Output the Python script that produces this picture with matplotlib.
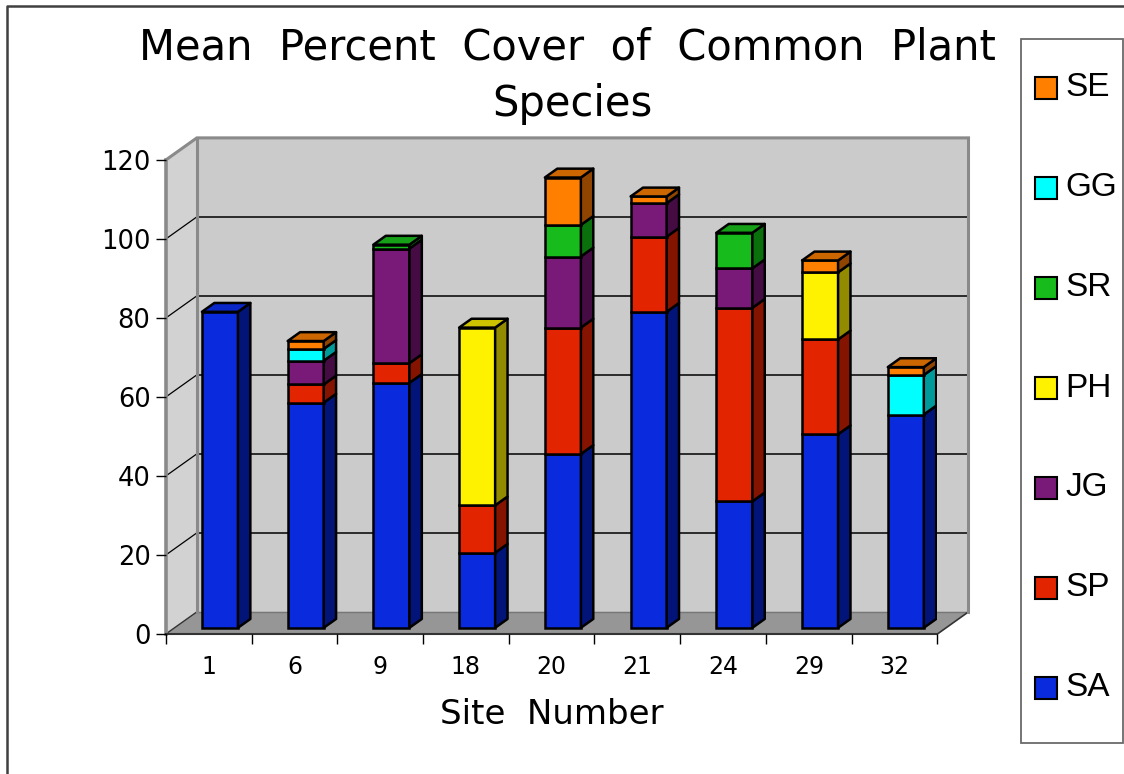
import matplotlib
matplotlib.use("Agg")
import matplotlib.pyplot as plt
from matplotlib.patches import Polygon, Rectangle
from matplotlib.lines import Line2D
import numpy as np

# Mean percent cover per site, one list per species (stacked bottom to top)
sites = ['1', '6', '9', '18', '20', '21', '24', '29', '32']
SA = [80, 57, 62, 19, 44, 80, 32, 49, 54]
SP = [0, 4.6, 5, 12, 32, 19, 49, 24, 0]
JG = [0, 6, 29, 0, 18, 8.5, 10, 0, 0]
PH = [0, 0, 0, 45, 0, 0, 0, 17, 0]
SR = [0, 0, 1, 0, 8, 0, 9, 0, 0]
GG = [0, 3, 0, 0, 0, 0, 0, 0, 10]
SE = [0, 2, 0, 0, 12, 1.7, 0, 3, 2]

species = ['SA', 'SP', 'JG', 'PH', 'SR', 'GG', 'SE']
series = [SA, SP, JG, PH, SR, GG, SE]
front_cols = ['#0a2ade', '#e32400', '#7a1a78', '#fff200', '#17bb1c', '#00ffff', '#ff7f00']
side_cols = ['#021478', '#841400', '#450c44', '#928b00', '#0a700c', '#009a9a', '#8f4400']
top_cols = ['#0a28c8', '#c02000', '#651664', '#ccc200', '#15a018', '#00cccc', '#cc6600']

W, H = 1124, 774
fig = plt.figure(figsize=(W / 100, H / 100), dpi=100)
fig.patch.set_facecolor('white')


def fx(px):
    return px / W


def fy(py):
    return 1 - py / H


# front plane of the plot: x from -0.5..8.5, y from 0..120
ax = fig.add_axes([fx(165.8), fy(634), (937.4 - 165.8) / W, (634 - 160) / H])
ax.set_xlim(-0.5, 8.5)
ax.set_ylim(0, 120)
ax.patch.set_visible(False)

# depth of the box (data units) and where bars sit inside it
DX, DY = 0.362, 5.6
d0, d1 = 0.28, 0.68
bw = 0.42
xoff = 0.03

wall_edge = '#8a8a8a'
x0, x1 = -0.5, 8.5

# back wall, left wall, floor
ax.add_patch(Polygon([(x0 + DX, DY), (x1 + DX, DY), (x1 + DX, 120 + DY), (x0 + DX, 120 + DY)],
                     closed=True, facecolor='#cbcbcb', edgecolor='none', zorder=0, clip_on=False))
ax.add_patch(Polygon([(x0, 0), (x0 + DX, DY), (x0 + DX, 120 + DY), (x0, 120)],
                     closed=True, facecolor='#d2d2d2', edgecolor='none', zorder=0, clip_on=False))
ax.add_patch(Polygon([(x0, 0), (x1, 0), (x1 + DX, DY), (x0 + DX, DY)],
                     closed=True, facecolor='#969696', edgecolor='none', zorder=0.5, clip_on=False))

# gridlines on back wall and left wall
for v in range(20, 120, 20):
    ax.plot([x0 + DX, x1 + DX], [v + DY, v + DY], color='black', lw=1.1, zorder=1, clip_on=False)
    ax.plot([x0, x0 + DX], [v, v + DY], color='black', lw=0.9, zorder=1, clip_on=False)

# wall borders
ax.plot([x0 + DX, x0 + DX], [DY, 120 + DY], color=wall_edge, lw=2.2, zorder=1.2, clip_on=False)
ax.plot([x1 + DX, x1 + DX], [DY, 120 + DY], color=wall_edge, lw=2.2, zorder=1.2, clip_on=False)
ax.plot([x0, x0 + DX, x1 + DX], [120, 120 + DY, 120 + DY], color=wall_edge, lw=2.2, zorder=1.2,
        clip_on=False)
ax.plot([x0, x0], [0, 120], color=wall_edge, lw=2.6, zorder=1.2, clip_on=False)
ax.plot([x0 + DX, x1 + DX], [DY, DY], color='#777777', lw=1.0, zorder=1.1, clip_on=False)
ax.plot([x0, x0 + DX], [0, DY], color='#333333', lw=1.0, zorder=1.1, clip_on=False)
ax.plot([x1, x1 + DX], [0, DY], color='#333333', lw=1.2, zorder=1.1, clip_on=False)

for s in ['top', 'right', 'left']:
    ax.spines[s].set_visible(False)
ax.spines['bottom'].set_color('#333333')
ax.spines['bottom'].set_linewidth(1.5)
ax.spines['bottom'].set_zorder(1.3)

# stacked bars with side and top faces
xs = np.arange(len(sites))
bottoms = np.zeros(len(sites))
tops_idx = [max(k for k in range(len(series)) if series[k][i] > 0) for i in range(len(sites))]
for k, vals in enumerate(series):
    vals = np.array(vals, dtype=float)
    for i in range(len(sites)):
        h = vals[i]
        if h <= 0:
            continue
        xc = xs[i] + d0 * DX + xoff
        yb = bottoms[i] + d0 * DY
        ax.bar(xc, h, bottom=yb, width=bw, color=front_cols[k], edgecolor='black',
               linewidth=1.8, zorder=3)
        xr = xc + bw / 2
        ddx, ddy = (d1 - d0) * DX, (d1 - d0) * DY
        ax.add_patch(Polygon([(xr, yb), (xr + ddx, yb + ddy), (xr + ddx, yb + h + ddy), (xr, yb + h)],
                             closed=True, facecolor=side_cols[k], edgecolor='black', lw=1.8,
                             zorder=3, joinstyle='round'))
        if tops_idx[i] == k:
            xl = xc - bw / 2
            yt = yb + h
            ax.add_patch(Polygon([(xl, yt), (xr, yt), (xr + ddx, yt + ddy), (xl + ddx, yt + ddy)],
                                 closed=True, facecolor=top_cols[k], edgecolor='black', lw=1.8,
                                 zorder=3.1, joinstyle='round'))
    bottoms += vals

# axis ticks and labels
ax.set_yticks(range(0, 121, 20))
ax.set_yticklabels([str(v) for v in range(0, 121, 20)], fontsize=18.5, family='DejaVu Sans')
ax.tick_params(axis='y', length=7, width=1.0, color='black', pad=4, direction='out')
ax.set_xticks(np.arange(-0.5, 9, 1.0))
ax.set_xticklabels([])
ax.set_xticks(xs, minor=True)
ax.set_xticklabels(sites, minor=True, fontsize=17, family='DejaVu Sans')
ax.tick_params(axis='x', which='major', length=7, width=1.0, color='black', direction='out')
ax.tick_params(axis='x', which='minor', length=0, pad=15)

# title and axis label
fig.text(fx(567), fy(48), 'Mean  Percent  Cover  of  Common  Plant', ha='center', va='center',
         fontsize=30, family='DejaVu Sans')
fig.text(fx(572), fy(104), 'Species', ha='center', va='center', fontsize=30, family='DejaVu Sans')
fig.text(fx(552), fy(715), 'Site  Number', ha='center', va='center', fontsize=24.5,
         family='DejaVu Sans')

# legend box
fig.add_artist(Rectangle((fx(1020.5), fy(742.5)), (1122.5 - 1020.5) / W, (742.5 - 39) / H,
                         transform=fig.transFigure, facecolor='white', edgecolor='#6a6a6a',
                         lw=1.3))
for j, k in enumerate(range(len(species) - 1, -1, -1)):
    yc = 88 + 100 * j
    fig.add_artist(Rectangle((fx(1035), fy(yc + 11)), 22 / W, 22 / H, transform=fig.transFigure,
                             facecolor=front_cols[k], edgecolor='black', lw=1.5))
    fig.text(fx(1065), fy(yc), species[k], ha='left', va='center', fontsize=24,
             family='Liberation Sans')

# outer chart border
fig.add_artist(Line2D([fx(7), fx(7), fx(1124)], [fy(774), fy(6), fy(6)], transform=fig.transFigure,
                      color='#404040', lw=1.8))

fig.savefig('out.png', dpi=100, facecolor='white')
